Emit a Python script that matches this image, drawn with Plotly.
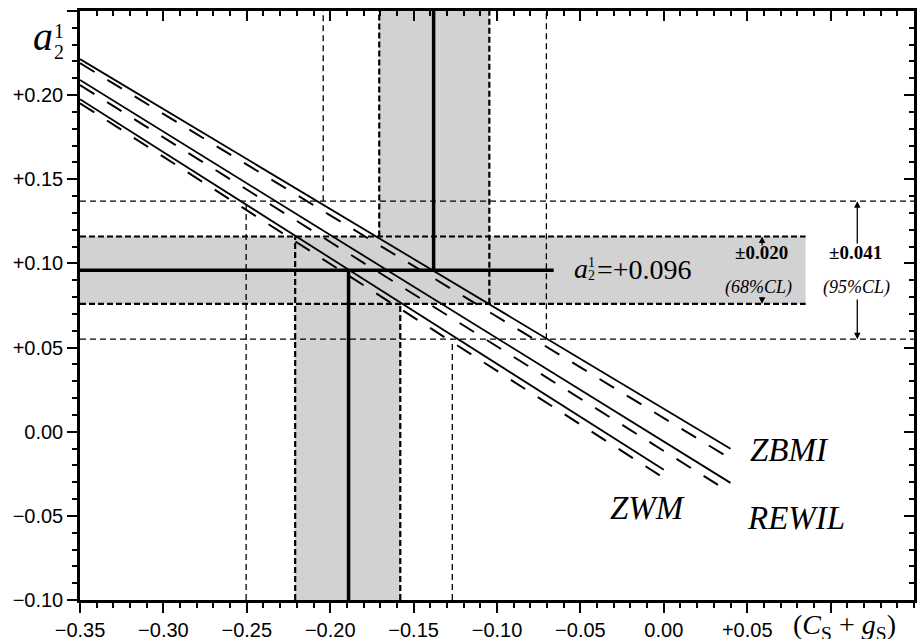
import plotly.graph_objects as go

# ---------------- data ----------------
x_range = [-0.35, 0.15]
y_range = [-0.10, 0.25]

x_ticks = [-0.35, -0.30, -0.25, -0.20, -0.15, -0.10, -0.05, 0.00, 0.05, 0.10]
x_tick_labels = ["−0.35", "−0.30", "−0.25", "−0.20", "−0.15", "−0.10", "−0.05", "0.00", "+0.05", ""]
y_ticks = [-0.10, -0.05, 0.00, 0.05, 0.10, 0.15, 0.20, 0.25]
y_tick_labels = ["−0.10", "−0.05", "0.00", "+0.05", "+0.10", "+0.15", "+0.20", ""]

a_central = 0.096
a_band68 = [0.076, 0.116]
a_band95 = [0.055, 0.137]
band68_x_end = 0.085
central_x_end = -0.066

upper_central_x = -0.138
upper_band68_x = [-0.1706, -0.1046]
upper_band95_x = [-0.2042, -0.0704]
lower_central_x = -0.189
lower_band68_x = [-0.221, -0.158]
lower_band95_x = [-0.2504, -0.1268]

model_names = ["ZBMI", "REWIL", "ZWM"]
solid_x = [[-0.35, 0.04], [-0.35, 0.04], [-0.35, 0.0]]
solid_y = [[0.2214, -0.0101], [0.209, -0.0304], [0.1976, -0.0226]]
dashed_x = [[-0.35, 0.04], [-0.35, 0.04], [-0.35, 0.0]]
dashed_y = [[0.219, -0.0160], [0.206, -0.0363], [0.1952, -0.0275]]
model_label_x = [0.0755, 0.0795, -0.010]
model_label_y = [-0.0108, -0.0512, -0.0453]

GREY = "#d2d2d2"
SERIF = "Liberation Serif, Times New Roman, serif"
SANS = "Liberation Sans, Arial, sans-serif"

fig = go.Figure()


def segs(pairs, width, dash="solid"):
    xs, ys = [], []
    for (x0, y0, x1, y1) in pairs:
        xs += [x0, x1, None]
        ys += [y0, y1, None]
    fig.add_trace(go.Scatter(x=xs, y=ys, mode="lines", hoverinfo="skip",
                             line=dict(color="black", width=width, dash=dash),
                             showlegend=False))


# grey bands (shapes, below traces)
shapes = [
    dict(type="rect", xref="x", yref="y", x0=x_range[0], x1=band68_x_end,
         y0=a_band68[0], y1=a_band68[1], fillcolor=GREY, line_width=0, layer="below"),
    dict(type="rect", xref="x", yref="y", x0=upper_band68_x[0], x1=upper_band68_x[1],
         y0=a_band68[0], y1=y_range[1], fillcolor=GREY, line_width=0, layer="below"),
    dict(type="rect", xref="x", yref="y", x0=lower_band68_x[0], x1=lower_band68_x[1],
         y0=y_range[0], y1=a_band68[1], fillcolor=GREY, line_width=0, layer="below"),
]

# 95% lines (thin dashed)
segs([
    (x_range[0], a_band95[0], x_range[1], a_band95[0]),
    (x_range[0], a_band95[1], x_range[1], a_band95[1]),
    (upper_band95_x[0], a_band95[1], upper_band95_x[0], y_range[1]),
    (upper_band95_x[1], a_band95[0], upper_band95_x[1], y_range[1]),
    (lower_band95_x[0], y_range[0], lower_band95_x[0], a_band95[1]),
    (lower_band95_x[1], y_range[0], lower_band95_x[1], a_band95[0]),
], 1.3, "6px,4px")

# 68% edges (bold dashed)
segs([
    (x_range[0], a_band68[0], band68_x_end, a_band68[0]),
    (x_range[0], a_band68[1], band68_x_end, a_band68[1]),
    (upper_band68_x[0], a_band68[1], upper_band68_x[0], y_range[1]),
    (upper_band68_x[1], a_band68[0], upper_band68_x[1], y_range[1]),
    (lower_band68_x[0], y_range[0], lower_band68_x[0], a_band68[1]),
    (lower_band68_x[1], y_range[0], lower_band68_x[1], a_band68[0]),
], 2.2, "6px,3px")

# central thick lines
segs([
    (x_range[0], a_central, central_x_end, a_central),
    (upper_central_x, a_central, upper_central_x, y_range[1]),
    (lower_central_x, y_range[0], lower_central_x, a_central),
], 3.5)

# model lines
for i in range(len(model_names)):
    fig.add_trace(go.Scatter(x=solid_x[i], y=solid_y[i], mode="lines", hoverinfo="skip",
                             line=dict(color="black", width=1.8), showlegend=False))
    fig.add_trace(go.Scatter(x=dashed_x[i], y=dashed_y[i], mode="lines", hoverinfo="skip",
                             line=dict(color="black", width=2.0, dash="17px,15px"),
                             showlegend=False))

# invisible trace for mirrored (top/right) axes
fig.add_trace(go.Scatter(x=[x_range[0]], y=[y_range[0]], xaxis="x2", yaxis="y2",
                         mode="markers", marker=dict(opacity=0), hoverinfo="skip",
                         showlegend=False))

annotations = []
for name, lx, ly in zip(model_names, model_label_x, model_label_y):
    annotations.append(dict(x=lx, y=ly, xref="x", yref="y", text=f"<i>{name}</i>",
                            showarrow=False, font=dict(family=SERIF, size=33, color="black")))

# central value label: a, stacked 1/2, then =+0.096
annotations += [
    dict(x=-0.0495, y=a_central, xref="x", yref="y", xanchor="center", yanchor="middle",
         text="<i>a</i>", showarrow=False, font=dict(family=SERIF, size=28, color="black"),
         yshift=2, borderpad=0),
    dict(x=-0.0435, y=a_central, xref="x", yref="y", xanchor="center", yanchor="middle",
         text="1", showarrow=False, font=dict(family=SERIF, size=14, color="black"),
         yshift=8, borderpad=0),
    dict(x=-0.0435, y=a_central, xref="x", yref="y", xanchor="center", yanchor="middle",
         text="2", showarrow=False, font=dict(family=SERIF, size=14, color="black"),
         yshift=-5, borderpad=0),
    dict(x=-0.0408, y=a_central, xref="x", yref="y", xanchor="left", yanchor="middle",
         text="=+0.096", showarrow=False, font=dict(family=SERIF, size=28, color="black"),
         yshift=1, borderpad=0),
]

# error labels
annotations += [
    dict(x=0.0583, y=0.1062, xref="x", yref="y", text="<b>±0.020</b>", showarrow=False,
         font=dict(family=SERIF, size=19, color="black")),
    dict(x=0.0565, y=0.0858, xref="x", yref="y", text="<i>(68%CL)</i>", showarrow=False,
         font=dict(family=SERIF, size=18, color="black")),
    dict(x=0.1152, y=0.1062, xref="x", yref="y", text="<b>±0.041</b>", showarrow=False,
         font=dict(family=SERIF, size=19, color="black")),
    dict(x=0.1158, y=0.0858, xref="x", yref="y", text="<i>(95%CL)</i>", showarrow=False,
         font=dict(family=SERIF, size=18, color="black")),
]

# arrows
arrow_x95 = 0.116
arrow_x68 = 0.0589
for (ax_x, tip, tail) in [(arrow_x95, a_band95[1], 0.111), (arrow_x95, a_band95[0], 0.0795),
                          (arrow_x68, a_band68[1], 0.1098), (arrow_x68, a_band68[0], 0.0807)]:
    annotations.append(dict(x=ax_x, y=tip, ax=ax_x, ay=tail, xref="x", yref="y",
                            axref="x", ayref="y", text="", showarrow=True, arrowhead=2,
                            arrowsize=1, arrowwidth=1.3, arrowcolor="black"))

# axis titles
annotations += [
    dict(x=0.1086, y=-0.045, xref="x", yref="paper", xanchor="center", yanchor="middle",
         text="(<i>C</i><sub>S</sub> + <i>g</i><sub>S</sub>)", showarrow=False,
         font=dict(family=SERIF, size=28, color="black"), borderpad=0),
    dict(x=-0.0444, y=0.956, xref="paper", yref="paper", xanchor="center", yanchor="middle",
         text="<i>a</i>", showarrow=False,
         font=dict(family=SERIF, size=40, color="black"), borderpad=0),
    dict(x=-0.0252, y=0.966, xref="paper", yref="paper", xanchor="center", yanchor="middle",
         text="1", showarrow=False,
         font=dict(family=SERIF, size=20, color="black"), borderpad=0),
    dict(x=-0.0252, y=0.930, xref="paper", yref="paper", xanchor="center", yanchor="middle",
         text="2", showarrow=False,
         font=dict(family=SERIF, size=20, color="black"), borderpad=0),
]

tickfont = dict(family=SANS, size=20, color="black")
common_ax = dict(showgrid=False, zeroline=False, linecolor="black", linewidth=2.5,
                 tickcolor="black", tickwidth=2, automargin=False)

fig.update_layout(
    width=919, height=639,
    margin=dict(l=80, r=5, t=11, b=39),
    paper_bgcolor="white", plot_bgcolor="white",
    shapes=shapes, annotations=annotations,
    xaxis=dict(range=x_range, tickvals=x_ticks, ticktext=x_tick_labels, ticks="outside",
               ticklen=10, showline=True, mirror=True, tickfont=tickfont,
               minor=dict(dtick=0.01, tick0=0, ticks="outside", ticklen=5, tickwidth=2,
                          tickcolor="black"), **common_ax),
    yaxis=dict(range=y_range, tickvals=y_ticks, ticktext=y_tick_labels, ticks="outside",
               ticklen=10, showline=True, mirror=True, tickfont=tickfont,
               minor=dict(dtick=0.01, tick0=0, ticks="outside", ticklen=5, tickwidth=2,
                          tickcolor="black"), **common_ax),
    xaxis2=dict(range=x_range, overlaying="x", side="top", anchor="y", tickvals=x_ticks,
                ticks="inside", ticklen=10, showticklabels=False, showline=False,
                minor=dict(dtick=0.01, tick0=0, ticks="inside", ticklen=5, tickwidth=2,
                           tickcolor="black"), **common_ax),
    yaxis2=dict(range=y_range, overlaying="y", side="right", anchor="x", tickvals=y_ticks,
                ticks="inside", ticklen=10, showticklabels=False, showline=False,
                minor=dict(dtick=0.01, tick0=0, ticks="inside", ticklen=5, tickwidth=2,
                           tickcolor="black"), **common_ax),
)

fig.write_html("out.html", config={"displayModeBar": False},
               post_script="document.body.style.margin='0px';document.body.style.padding='0px';")
